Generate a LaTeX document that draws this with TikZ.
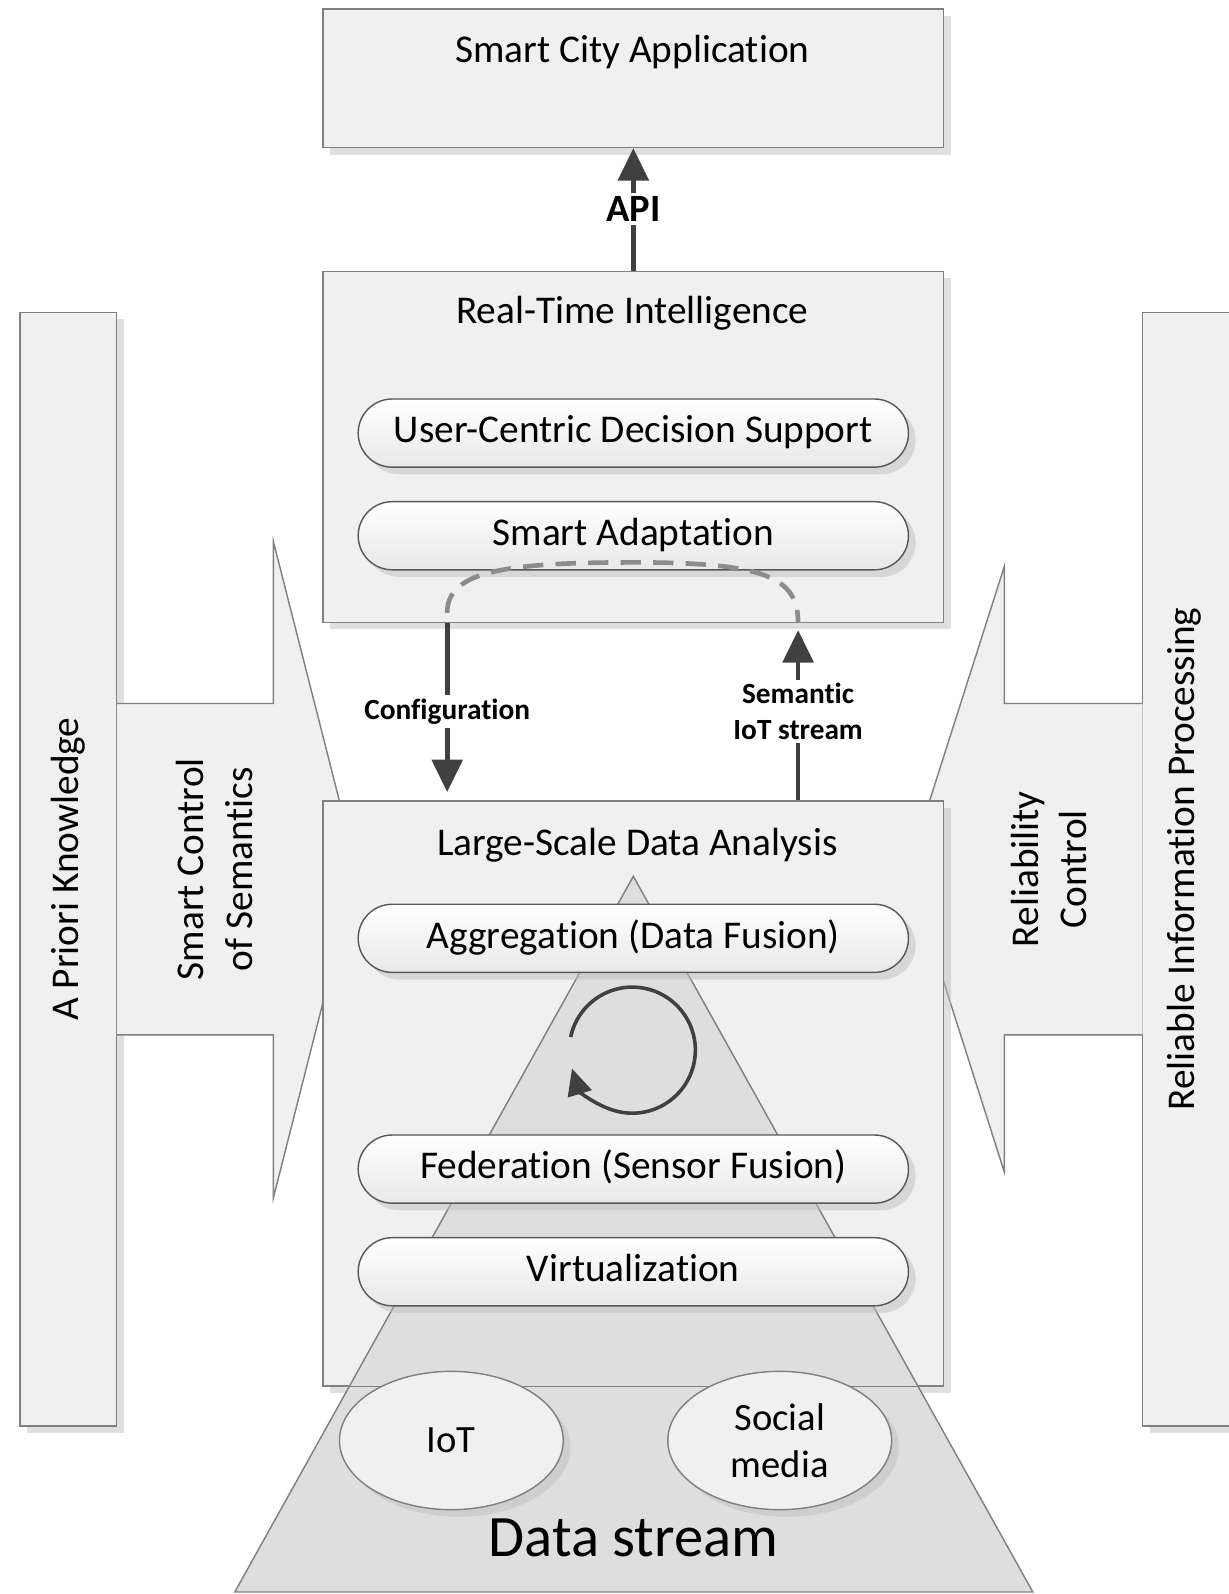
\documentclass[tikz,border=0pt]{standalone}
\usepackage{fontspec}
\setmainfont{Carlito}[Ligatures=CommonOff]
\usetikzlibrary{arrows.meta,shadows,shapes.geometric,positioning}
\begin{document}
\begin{tikzpicture}[x=.01cm,y=-.01cm,
 dshadow/.style={drop shadow={shadow xshift=.7mm,shadow yshift=-.7mm,fill=black!25,opacity=.5}},
 panel/.style={draw=black!50,fill=black!6,dshadow},
 pill/.style={draw=black!65,rounded corners=.335cm,minimum width=5.41cm,minimum height=.67cm,top color=white,bottom color=black!9,dshadow,font=\fontsize{11}{13}\selectfont,text height=1.6ex,text depth=.45ex},
 title/.style={anchor=mid,font=\fontsize{11}{13}\selectfont},
 vtxt/.style={rotate=90,align=center,font=\fontsize{11}{13.5}\selectfont},
 blockarr/.style={draw=black!50,fill=black!6},
 arr/.style={draw=black!75,line width=1.3pt,-{Triangle[length=3.2mm,width=3mm]}},
 lbl/.style={fill=white,inner sep=1pt,align=center,font=\bfseries\fontsize{8.2}{10}\selectfont},
 src/.style={ellipse,draw=black!50,fill=black!6,minimum width=2.2cm,minimum height=1.36cm,align=center,dshadow,font=\fontsize{10.8}{13}\selectfont}]
\useasboundingbox (0,0) rectangle (1208,1568);
\node[panel,minimum width=.95cm,minimum height=10.95cm] (kn) at (67,855) {};
\node[panel,minimum width=1cm,minimum height=10.95cm] (rel) at (1174,855) {};
\node[vtxt] (knt) at (kn) {A Priori Knowledge};
\node[vtxt] (relt) at (1165,845) {Reliable Information Processing};
\draw[blockarr] (115,692) -- (269,692) -- (269,533) -- (351,855) -- (269,1178) -- (269,1018) -- (115,1018);
\draw[blockarr] (1124,692) -- (988,692) -- (988,557) -- (893,855) -- (988,1153) -- (988,1018) -- (1124,1018);
\node[vtxt] (sct) at (211,855) {Smart Control\\of Semantics};
\node[vtxt] (rct) at (1032,855) {Reliability\\Control};
\node[panel,minimum width=6.1cm,minimum height=1.36cm] (app) at (623,77) {};
\node[panel,minimum width=6.1cm,minimum height=3.45cm] (rti) at (623,439.5) {};
\node[panel,minimum width=6.1cm,minimum height=5.75cm] (lsda) at (623,1075.5) {};
\node[title] (appt) at (622,53) {Smart City Application};
\node[title] (rtit) at (622,310) {Real-Time Intelligence};
\node[title] (lsdat) at (627,833) {Large-Scale Data Analysis};
\filldraw[draw=black!50,fill=black!13] (623,862) -- (1016,1566) -- (231,1566) -- cycle;
\draw[black!50] (lsda.south west) -- (lsda.south east);
\foreach \n/\y/\t in {ucds/426/{User-Centric Decision Support}, ada/527/{Smart Adaptation}, agg/923/{Aggregation (Data Fusion)}, fed/1150/{Federation (Sensor Fusion)}, virt/1251/{Virtualization}}
 \node[pill] (\n) at (623,\y) {\t};
\coordinate (cyc) at (622,1033);
\draw[arr,line width=1pt,-{Triangle[length=2.6mm,width=2.4mm]}] ([shift={(-168:62)}]cyc) arc[start angle=-168,end angle=163,radius=62];
\node[src] (iot) at (444,1417) {IoT};
\node[src] (soc) at (767,1417) {Social\\media};
\node[font=\fontsize{16.4}{20}\selectfont] (ds) at (623,1513) {Data stream};
\draw[arr] (rti.north) -- node[lbl,font=\bfseries\fontsize{10.8}{12}\selectfont] (api) {API} (app.south);
\draw[arr,shorten >=.8mm] ([xshift=-1.83cm]rti.south) -- node[lbl] (cfg) {Configuration} ([xshift=-1.83cm]lsda.north);
\draw[arr,shorten >=.7mm] ([xshift=1.62cm]lsda.north) -- node[lbl] (sem) {Semantic\\IoT stream} ([xshift=1.62cm]rti.south);
\draw[black!45,line width=1.3pt,dash pattern=on 2mm off 1.2mm] ([xshift=-1.83cm,yshift=1mm]rti.south) .. controls +(0,-40) and +(-130,0) .. ([yshift=.8mm]ada.south) .. controls +(130,0) and +(0,-45) .. ([xshift=1.62cm]rti.south);
\end{tikzpicture}
\end{document}
